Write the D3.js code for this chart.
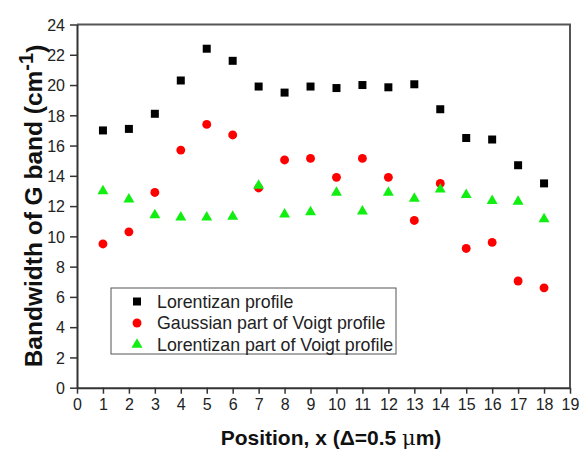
<!DOCTYPE html>
<html>
<head>
<meta charset="utf-8">
<script src="https://cdn.jsdelivr.net/npm/d3@7"></script>
<style>
  body { margin: 0; background: #fff; }
  svg { display: block; font-family: "Liberation Sans", Arial, sans-serif; }
</style>
</head>
<body>
<div id="chart"></div>
<script>
// values
const positions = [1, 2, 3, 4, 5, 6, 7, 8, 9, 10, 11, 12, 13, 14, 15, 16, 17, 18];
const lorentzProfile = [17.0, 17.1, 18.1, 20.3, 22.4, 21.6, 19.9, 19.5, 19.9, 19.8, 20.0, 19.85, 20.05, 18.4, 16.5, 16.4, 14.7, 13.5];
const gaussVoigt = [9.5, 10.3, 12.9, 15.7, 17.4, 16.7, 13.2, 15.05, 15.15, 13.9, 15.15, 13.9, 11.05, 13.5, 9.2, 9.6, 7.05, 6.6];
const lorentzVoigt = [13.0, 12.45, 11.4, 11.25, 11.25, 11.3, 13.35, 11.45, 11.6, 12.9, 11.65, 12.9, 12.5, 13.1, 12.75, 12.35, 12.3, 11.15];
const xTicks = d3.range(0, 20);
const yTicks = d3.range(0, 25, 2);

const series = [
  { name: "Lorentizan profile", values: lorentzProfile, shape: d3.symbolSquare, size: 64, color: "#000" },
  { name: "Gaussian part of Voigt profile", values: gaussVoigt, shape: d3.symbolCircle, size: 62, color: "#f00" },
  { name: "Lorentizan part of Voigt profile", values: lorentzVoigt, shape: d3.symbolTriangle, size: 52, color: "#11ee11" }
];

const width = 582, height = 453;
const margin = { left: 77, right: 12, top: 24.5, bottom: 65.3 };

const svg = d3.select("#chart").append("svg")
    .attr("width", width)
    .attr("height", height);

const x = d3.scaleLinear().domain([0, 19]).range([margin.left, width - margin.right]);
const y = d3.scaleLinear().domain([0, 24]).range([height - margin.bottom, margin.top]);

// frame (top + right)
svg.append("path")
    .attr("d", `M${x(0)},${y(24)}H${x(19)}V${y(0)}`)
    .attr("fill", "none")
    .attr("stroke", "#555")
    .attr("stroke-width", 2);

const xAxis = svg.append("g")
    .attr("transform", `translate(0,${y(0)})`)
    .call(d3.axisBottom(x).tickValues(xTicks).tickSize(6).tickSizeOuter(0).tickPadding(5));

const yAxis = svg.append("g")
    .attr("transform", `translate(${x(0)},0)`)
    .call(d3.axisLeft(y).tickValues(yTicks).tickSize(7).tickSizeOuter(0).tickPadding(5));

[xAxis, yAxis].forEach(g => {
    g.select(".domain").attr("stroke", "#333").attr("stroke-width", 2);
    g.selectAll(".tick line").attr("stroke", "#333").attr("stroke-width", 1.5);
    g.selectAll(".tick text")
        .attr("fill", "#222")
        .style("font-size", "16px")
        .style("font-family", "'Liberation Sans', Arial, sans-serif");
});
yAxis.selectAll(".tick text").attr("dy", "0.36em");

// points
series.forEach(s => {
    svg.append("g")
        .selectAll("path")
        .data(positions.map((p, i) => ({ p, v: s.values[i] })))
        .join("path")
        .attr("transform", d => `translate(${x(d.p)},${y(d.v)})`)
        .attr("d", d3.symbol().type(s.shape).size(s.size))
        .attr("fill", s.color);
});

// legend
const legend = svg.append("g").attr("transform", "translate(111,288)");
legend.append("rect")
    .attr("width", 285)
    .attr("height", 66)
    .attr("fill", "#fff")
    .attr("stroke", "#555")
    .attr("stroke-width", 1);

series.forEach((s, i) => {
    const row = legend.append("g").attr("transform", `translate(0,${13.5 + i * 21.5})`);
    row.append("path")
        .attr("transform", "translate(26,0)")
        .attr("d", d3.symbol().type(s.shape).size(s.size))
        .attr("fill", s.color);
    row.append("text")
        .attr("x", 46)
        .attr("dy", "0.36em")
        .style("font-size", "17.8px")
        .attr("fill", "#222")
        .text(s.name);
});

// axis titles
const xt = svg.append("text")
    .attr("x", 331)
    .attr("y", 445)
    .attr("text-anchor", "middle")
    .style("font-size", "21px")
    .style("font-weight", "bold")
    .attr("fill", "#111");
xt.append("tspan").text("Position, x (\u0394=0.5 ");
xt.append("tspan").style("font-family", "'DejaVu Serif', serif").style("font-weight", "normal").text("\u03bc");
xt.append("tspan").text("m)");

const yt = svg.append("text")
    .attr("transform", `translate(42,206) rotate(-90)`)
    .attr("text-anchor", "middle")
    .style("font-size", "24.5px")
    .style("font-weight", "bold")
    .attr("fill", "#111");
yt.append("tspan").text("Bandwidth of G band (cm");
yt.append("tspan").attr("dy", "-0.45em").style("font-size", "20px").text("-1");
yt.append("tspan").attr("dy", "0.45em").text(")");
</script>
</body>
</html>
